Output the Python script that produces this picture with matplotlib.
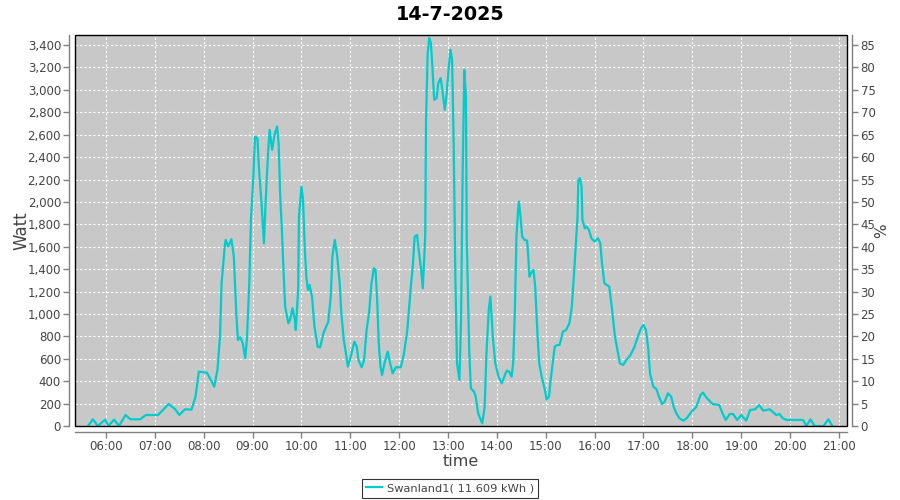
import matplotlib
matplotlib.use('Agg')
import matplotlib.pyplot as plt
import matplotlib.dates as mdates
from matplotlib.ticker import FuncFormatter, MultipleLocator
from matplotlib.patches import Rectangle
import pandas as pd

plt.rcParams['font.family'] = ['DejaVu Sans']

# ---------------- data ----------------
day = '2025-07-14'
title = '14-7-2025'
series_name = 'Swanland1( 11.609 kWh )'
x_range = ['05:22:00', '21:09:30']
watt_max = 3490
pct_per_watt = 1 / 40.0

times = [
    '05:38', '05:44', '05:50', '05:59', '06:03', '06:10', '06:16', '06:24', '06:30', '06:42',
    '06:49', '07:04', '07:17', '07:25', '07:30', '07:37', '07:45', '07:50', '07:54', '08:04',
    '08:13', '08:17', '08:20', '08:22', '08:26', '08:27', '08:30', '08:34', '08:37', '08:40',
    '08:42', '08:45', '08:48', '08:51', '08:53', '08:56', '08:58', '09:01', '09:03', '09:06',
    '09:08', '09:11', '09:14', '09:16', '09:19', '09:21', '09:24', '09:27', '09:30', '09:32',
    '09:34', '09:36', '09:38', '09:40', '09:44', '09:46', '09:49', '09:52', '09:53', '09:56',
    '09:57', '10:00', '10:02', '10:04', '10:06', '10:08', '10:10', '10:13', '10:16', '10:20',
    '10:23', '10:27', '10:33', '10:36', '10:38', '10:41', '10:44', '10:47', '10:49', '10:52',
    '10:55', '10:57', '11:01', '11:05', '11:08', '11:10', '11:14', '11:17', '11:20', '11:23',
    '11:26', '11:29', '11:31', '11:33', '11:35', '11:37', '11:39', '11:42', '11:46', '11:48',
    '11:52', '11:56', '12:02', '12:06', '12:10', '12:14', '12:17', '12:19', '12:22', '12:24',
    '12:27', '12:29', '12:32', '12:33', '12:35', '12:37', '12:39', '12:41', '12:43', '12:46',
    '12:48', '12:51', '12:53', '12:56', '12:58', '13:01', '13:03', '13:05', '13:07', '13:09',
    '13:11', '13:14', '13:16', '13:18', '13:20', '13:22', '13:23', '13:26', '13:28', '13:32',
    '13:34', '13:37', '13:42', '13:45', '13:47', '13:50', '13:52', '13:55', '13:58', '14:02',
    '14:06', '14:12', '14:15', '14:18', '14:20', '14:22', '14:24', '14:26', '14:27', '14:29',
    '14:31', '14:34', '14:37', '14:38', '14:40', '14:42', '14:45', '14:47', '14:50', '14:52',
    '14:55', '14:59', '15:01', '15:04', '15:06', '15:09', '15:11', '15:14', '15:17', '15:21',
    '15:25', '15:29', '15:32', '15:35', '15:37', '15:39', '15:40', '15:42', '15:44', '15:45',
    '15:48', '15:50', '15:53', '15:56', '16:00', '16:04', '16:07', '16:09', '16:12', '16:15',
    '16:18', '16:21', '16:25', '16:28', '16:31', '16:35', '16:39', '16:44', '16:49', '16:53',
    '16:57', '17:00', '17:03', '17:06', '17:08', '17:12', '17:16', '17:19', '17:23', '17:26',
    '17:30', '17:34', '17:37', '17:40', '17:44', '17:49', '17:53', '17:59', '18:05', '18:10',
    '18:13', '18:18', '18:25', '18:33', '18:37', '18:41', '18:46', '18:50', '18:55', '19:00',
    '19:06', '19:11', '19:17', '19:22', '19:27', '19:35', '19:43', '19:47', '19:51', '19:56',
    '20:08', '20:16', '20:20', '20:25', '20:30', '20:41', '20:47', '20:52',
]

watts = [
    0, 60, 0, 57, 0, 57, 0, 98, 60, 60,
    98, 98, 196, 150, 98, 149, 146, 262, 485, 476,
    351, 506, 797, 1274, 1616, 1661, 1601, 1667, 1512, 1006,
    768, 792, 738, 604, 768, 1274, 1840, 2226, 2583, 2569,
    2286, 1989, 1631, 1991, 2435, 2643, 2465, 2599, 2673, 2525,
    2048, 1750, 1393, 1065, 917, 947, 1051, 947, 857, 1214,
    1869, 2137, 2018, 1601, 1333, 1214, 1259, 1155, 887, 708,
    702, 828, 931, 1155, 1512, 1661, 1512, 1274, 1006, 768,
    634, 530, 634, 753, 708, 589, 524, 589, 857, 1006,
    1274, 1408, 1393, 1125, 738, 530, 455, 560, 664, 589,
    470, 524, 524, 649, 857, 1214, 1453, 1690, 1706, 1572,
    1393, 1230, 1690, 2733, 3328, 3462, 3417, 3179, 2911, 2926,
    3060, 3105, 3000, 2822, 2941, 3209, 3358, 3268, 2494, 1333,
    560, 411, 947, 2286, 3179, 2941, 1661, 679, 337, 306,
    262, 113, 24, 172, 619, 1036, 1155, 797, 560, 440,
    381, 494, 485, 440, 560, 1006, 1690, 1929, 2003, 1869,
    1690, 1661, 1655, 1572, 1333, 1364, 1393, 1244, 797, 560,
    440, 321, 238, 262, 411, 589, 708, 723, 723, 842,
    857, 917, 1065, 1393, 1631, 1869, 2197, 2212, 2137, 1840,
    1765, 1780, 1750, 1676, 1646, 1676, 1631, 1453, 1274, 1259,
    1244, 1065, 797, 679, 560, 545, 589, 634, 708, 797,
    872, 902, 857, 679, 470, 351, 328, 262, 196, 217,
    292, 262, 172, 119, 69, 48, 69, 128, 172, 277,
    298, 247, 196, 187, 113, 54, 107, 107, 54, 98,
    48, 143, 149, 187, 137, 149, 98, 107, 69, 54,
    54, 54, 0, 60, 0, 0, 60, 0,
]

# ---------------- styles ----------------
line_color = '#00CCCC'
plot_bg = '#C8C8C8'
axis_gray = '#808080'
text_gray = '#444444'

t = pd.to_datetime([f'{day} {s}' for s in times], format='%Y-%m-%d %H:%M')
xlim = pd.to_datetime([f'{day} {s}' for s in x_range], format='%Y-%m-%d %H:%M:%S')

fig = plt.figure(figsize=(9, 5), dpi=100)
ax = fig.add_axes([75 / 900, 74 / 500, (846.7 - 75) / 900, (426 - 35) / 500])
ax.set_facecolor(plot_bg)

line, = ax.plot(t, watts, color=line_color, linewidth=1.6, zorder=3)

ax.set_xlim(xlim[0], xlim[1])
ax.set_ylim(0, watt_max)
ax.yaxis.set_major_locator(MultipleLocator(200))
ax.yaxis.set_major_formatter(FuncFormatter(lambda v, p: f'{v:,.0f}'))
ax.xaxis.set_major_locator(mdates.HourLocator())
ax.xaxis.set_major_formatter(mdates.DateFormatter('%H:%M'))

ax.grid(True, color='white', linestyle=(0, (2, 2)), linewidth=0.8)
ax.set_axisbelow(True)

ax2 = ax.twinx()
ax2.set_ylim(0, watt_max * pct_per_watt)
ax2.yaxis.set_major_locator(MultipleLocator(5))

for a in (ax, ax2):
    for s in a.spines.values():
        s.set_visible(False)
ax.spines['left'].set_visible(True)
ax.spines['bottom'].set_visible(True)
ax2.spines['right'].set_visible(True)
for s in (ax.spines['left'], ax.spines['bottom'], ax2.spines['right']):
    s.set_position(('outward', 4))
    s.set_color(axis_gray)
    s.set_linewidth(1.0)

ax.tick_params(axis='both', colors=axis_gray, labelcolor=text_gray, labelsize=8.5,
               length=4, width=1, direction='out', pad=2)
ax2.tick_params(axis='y', colors=axis_gray, labelcolor=text_gray, labelsize=8.5,
                length=4, width=1, direction='out', pad=2)

ax.add_patch(Rectangle((0, 0), 1, 1, transform=ax.transAxes, fill=False,
                       edgecolor='black', linewidth=1.0, clip_on=False, zorder=5))

ax.set_ylabel('Watt', fontsize=12, color=text_gray, labelpad=-2)
ax.set_xlabel('time', fontsize=11.5, color=text_gray, labelpad=0.5)
ax2.set_ylabel('%', fontsize=11, color=text_gray, labelpad=-1)

fig.suptitle(title, x=0.5, y=0.99, fontsize=13.8, fontweight='bold', color='black')

leg = fig.legend([line], [series_name], loc='lower center', bbox_to_anchor=(0.5, 0.0),
                 frameon=True, fancybox=False, edgecolor='black', fontsize=8.2,
                 handlelength=1.4, borderpad=0.4, handletextpad=0.4, borderaxespad=0.2)
leg.get_frame().set_linewidth(0.8)
for txt in leg.get_texts():
    txt.set_color(text_gray)

fig.savefig('out.png', dpi=100)
